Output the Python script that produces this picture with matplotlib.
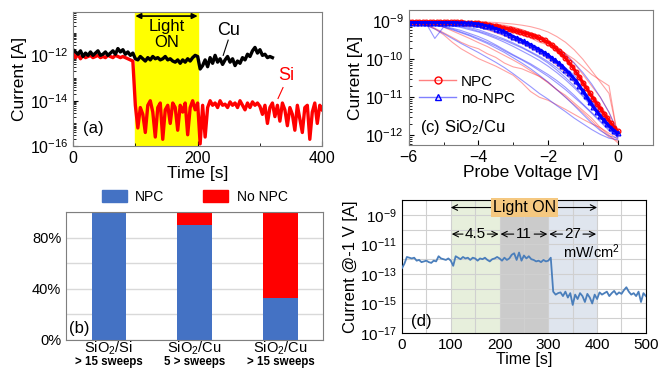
import numpy as np
import matplotlib
matplotlib.use("Agg")
import matplotlib.pyplot as plt
from matplotlib.ticker import LogLocator, NullFormatter, FixedLocator
from matplotlib.lines import Line2D
from matplotlib.patches import Patch

plt.rcParams['font.family'] = ['Liberation Sans', 'DejaVu Sans']
plt.rcParams['mathtext.fontset'] = 'custom'
plt.rcParams['mathtext.rm'] = 'Liberation Sans'
plt.rcParams['mathtext.it'] = 'Liberation Sans:italic'
plt.rcParams['mathtext.bf'] = 'Liberation Sans:bold'

# ---------------- data (log10 of current where noted) ----------------
# (a) current vs time, sampled every 4 s, log10(I)
cu_log = [-11.75, -11.85, -11.95, -11.8, -12.05, -11.9, -12.0, -11.85, -12.0, -11.9,
          -11.8, -12.0, -11.95, -11.85, -12.0, -11.9, -11.8, -11.95, -11.7, -11.85,
          -11.75, -11.95, -11.85, -12.0, -11.9, -12.15, -12.2, -12.05, -12.15, -12.25,
          -12.1, -12.2, -12.05, -12.15, -12.1, -12.2, -12.15, -12.05, -12.2, -12.15,
          -12.25, -12.3, -12.2, -12.35, -12.2, -12.3, -12.15, -12.25, -12.1, -12.0,
          -12.05, -12.6, -12.45, -12.2, -12.5, -12.1, -12.35, -12.0, -12.3, -12.15,
          -12.4, -12.2, -12.05, -12.3, -12.15, -12.45, -12.25, -12.35, -12.1, -12.2,
          -11.95, -12.05, -11.8, -11.65, -11.9, -11.75, -12.0, -11.95, -12.1, -12.05, -12.1]
si_log = [-11.9, -12.1, -11.95, -12.15, -12.0, -12.1, -12.05, -12.0, -12.1, -12.05,
          -12.0, -12.1, -12.05, -12.1, -12.0, -12.05, -12.1, -12.0, -12.05, -12.1,
          -12.05, -12.1, -12.15, -12.2, -12.25, -14.2, -15.2, -14.3, -14.6, -15.4,
          -14.2, -14.0, -14.5, -15.6, -14.3, -14.1, -15.7, -14.4, -14.2, -15.0,
          -14.1, -14.3, -15.3, -14.2, -14.5, -14.1, -15.5, -14.3, -14.0, -14.4,
          -14.1, -15.9, -14.2, -15.6, -14.3, -14.0, -14.2, -14.1, -14.3, -14.0,
          -14.2, -14.15, -14.3, -14.05, -14.2, -14.1, -14.3, -14.0, -14.2, -14.4,
          -14.1, -14.3, -14.05, -14.2, -14.1, -14.25, -14.6, -14.2, -15.0, -14.3,
          -14.1, -14.7, -14.2, -14.9, -14.1, -14.4, -15.1, -14.3, -14.6, -15.3,
          -14.2, -14.8, -15.4, -14.3, -14.2, -15.7, -14.5, -14.1, -15.0, -14.2, -14.4]
t_cu = np.linspace(0, 320, len(cu_log))
t_si = np.linspace(0, 400, len(si_log))

# (c) I-V sweeps, log10(I); averages every 0.1 V, single sweeps every 0.25 V
v_avg = np.linspace(-6, 0, 61)
npc_avg = [-9.02] * 11 + [-9.02, -9.02, -9.02, -9.02, -9.02, -9.03, -9.03, -9.03, -9.03, -9.04,
           -9.06, -9.07, -9.09, -9.11, -9.13, -9.15, -9.17, -9.19, -9.21, -9.24,
           -9.26, -9.28, -9.31, -9.33, -9.36, -9.39, -9.42, -9.46, -9.50, -9.56,
           -9.62, -9.70, -9.78, -9.87, -9.97, -10.08, -10.20, -10.33, -10.47, -10.62,
           -10.76, -10.90, -11.04, -11.17, -11.30, -11.43, -11.56, -11.68, -11.80, -11.90]
nonpc_avg = [-9.03] * 11 + [-9.03, -9.03, -9.03, -9.04, -9.04, -9.04, -9.05, -9.05, -9.06, -9.07,
             -9.09, -9.11, -9.13, -9.16, -9.19, -9.22, -9.26, -9.30, -9.35, -9.40,
             -9.44, -9.48, -9.53, -9.57, -9.62, -9.67, -9.72, -9.77, -9.83, -9.89,
             -9.96, -10.03, -10.10, -10.18, -10.27, -10.36, -10.46, -10.57, -10.70, -10.84,
             -10.98, -11.12, -11.25, -11.38, -11.50, -11.61, -11.71, -11.80, -11.88, -11.95]
v_sweep = np.linspace(-6, 0, 25)
npc_sweeps = [
    [-9.00, -9.00, -9.00, -9.00, -9.00, -9.00, -9.00, -9.00, -9.01, -9.02, -9.03, -9.05, -9.07,
     -9.10, -9.14, -9.20, -9.28, -9.40, -9.55, -9.75, -10.00, -10.30, -10.60, -10.90, -12.0],
    [-9.01, -9.01, -9.01, -9.01, -9.01, -9.02, -9.02, -9.03, -9.04, -9.06, -9.08, -9.12, -9.16,
     -9.22, -9.30, -9.38, -9.50, -9.66, -9.85, -10.10, -10.40, -10.70, -11.00, -11.40, -11.95],
    [-9.02, -9.05, -9.10, -9.20, -9.35, -9.55, -9.72, -9.85, -9.98, -10.08, -10.18, -10.30, -10.42,
     -10.62, -10.85, -11.00, -11.08, -11.20, -11.32, -11.45, -11.58, -11.70, -11.80, -11.95, -12.10],
    [-9.02, -9.04, -9.08, -9.18, -9.30, -9.42, -9.55, -9.65, -9.72, -9.85, -9.95, -10.10, -10.20,
     -10.25, -10.35, -10.45, -10.60, -10.80, -10.95, -11.15, -11.35, -11.55, -11.80, -12.00, -12.20],
    [-9.00, -9.00, -9.00, -9.00, -9.01, -9.01, -9.02, -9.03, -9.04, -9.05, -9.07, -9.10, -9.15,
     -9.22, -9.30, -9.42, -9.55, -9.70, -9.85, -10.00, -10.20, -10.40, -10.55, -10.70, -12.05],
    [-9.01, -9.01, -9.02, -9.02, -9.03, -9.04, -9.06, -9.10, -9.15, -9.22, -9.30, -9.38, -9.48,
     -9.58, -9.70, -9.82, -9.98, -10.15, -10.35, -10.60, -10.85, -11.15, -11.45, -11.75, -12.0],
    [-9.00, -9.01, -9.01, -9.02, -9.02, -9.03, -9.05, -9.07, -9.10, -9.13, -9.17, -9.22, -9.28,
     -9.35, -9.44, -9.55, -9.62, -9.80, -10.00, -10.25, -10.55, -10.90, -11.20, -11.55, -11.90],
    [-9.01, -9.02, -9.04, -9.08, -9.15, -9.25, -9.35, -9.45, -9.56, -9.66, -9.78, -9.90, -10.02,
     -10.15, -10.30, -10.45, -10.62, -10.80, -11.00, -11.20, -11.40, -11.62, -11.85, -12.05, -12.15],
]
nonpc_sweeps = [
    [-9.02, -9.02, -9.03, -9.03, -9.04, -9.05, -9.07, -9.10, -9.14, -9.19, -9.25, -9.33, -9.42,
     -9.52, -9.63, -9.76, -9.90, -10.05, -10.22, -10.42, -10.65, -10.92, -11.25, -11.60, -11.95],
    [-9.02, -9.03, -9.04, -9.05, -9.07, -9.10, -9.14, -9.19, -9.26, -9.33, -9.42, -9.50, -9.60,
     -9.70, -9.82, -9.95, -10.10, -10.28, -10.48, -10.70, -10.95, -11.22, -11.52, -11.82, -12.05],
    [-9.02, -9.03, -9.05, -9.45, -9.15, -9.20, -9.28, -9.36, -9.45, -9.55, -9.65, -9.78, -9.90,
     -10.02, -10.15, -10.30, -10.45, -10.62, -10.80, -11.00, -11.20, -11.42, -11.65, -11.88, -12.05],
    [-9.03, -9.05, -9.10, -9.20, -9.32, -9.45, -9.58, -9.70, -9.82, -9.95, -10.08, -10.22, -10.38,
     -10.55, -10.72, -10.90, -11.05, -11.22, -11.38, -11.55, -11.70, -11.85, -11.98, -12.08, -12.12],
    [-9.01, -9.01, -9.01, -9.02, -9.02, -9.03, -9.04, -9.05, -9.07, -9.10, -9.13, -9.17, -9.22,
     -9.28, -9.36, -9.45, -9.56, -9.70, -9.88, -10.10, -10.35, -10.65, -11.00, -11.40, -11.90],
    [-9.02, -9.02, -9.03, -9.04, -9.06, -9.08, -9.11, -9.16, -9.22, -9.30, -9.38, -9.47, -9.57,
     -9.68, -9.80, -9.92, -10.06, -10.22, -10.40, -10.60, -10.82, -11.08, -11.35, -11.65, -11.98],
    [-9.03, -9.04, -9.06, -9.09, -9.13, -9.18, -9.24, -9.32, -9.40, -9.50, -9.62, -9.75, -9.88,
     -10.00, -10.12, -10.26, -10.40, -10.56, -10.74, -10.95, -11.18, -11.40, -11.62, -11.85, -12.00],
    [-9.02, -9.03, -9.04, -9.06, -9.08, -9.12, -9.16, -9.22, -9.28, -9.36, -9.45, -9.55, -9.66,
     -9.78, -9.90, -10.03, -10.18, -10.35, -10.54, -10.75, -10.98, -11.25, -11.50, -11.78, -12.02],
    [-9.02, -9.02, -9.03, -9.03, -9.04, -9.06, -9.08, -9.11, -9.15, -9.21, -9.28, -9.37, -9.46,
     -9.56, -9.68, -9.80, -9.95, -10.12, -10.32, -10.55, -10.80, -11.10, -11.42, -11.72, -12.00],
    [-9.03, -9.05, -9.07, -9.10, -9.15, -9.22, -9.30, -9.38, -9.48, -9.58, -9.70, -9.82, -9.96,
     -10.10, -10.25, -10.42, -10.60, -10.80, -11.00, -11.22, -11.45, -11.68, -11.88, -12.02, -12.08],
]

# (b) share of sweeps with / without NPC
bar_cats = ['SiO$_2$/Si', 'SiO$_2$/Cu', 'SiO$_2$/Cu']
bar_sub = ['> 15 sweeps', '5 > sweeps', '> 15 sweeps']
npc_pct = [100, 90, 33]
no_npc_pct = [0, 10, 67]

# (d) current @-1 V vs time, every 5 s, log10(I)
d_log = [-12.6, -12.3, -11.85, -11.9, -11.95, -11.9, -12.1, -12.05, -12.2, -12.15,
         -12.1, -12.2, -12.25, -12.1, -12.15, -11.8, -11.95, -12.0, -12.05, -11.95,
         -12.1, -12.45, -11.8, -11.9, -12.0, -11.85, -11.95, -11.9, -12.05, -11.9,
         -11.95, -12.1, -11.95, -12.0, -11.9, -12.05, -12.15, -12.0, -11.95, -11.85,
         -11.95, -12.1, -11.9, -12.05, -11.95, -11.7, -11.6, -12.05, -11.55, -12.1,
         -11.75, -11.95, -11.8, -12.0, -12.05, -12.15, -12.1, -12.2, -12.05, -12.15,
         -12.1, -11.9, -14.2, -14.4, -14.3, -14.25, -14.5, -14.2, -14.6, -14.3,
         -15.1, -14.4, -14.7, -14.3, -14.5, -14.9, -14.35, -14.6, -15.0, -14.4,
         -14.7, -14.25, -14.4, -14.3, -14.2, -14.5, -14.3, -14.15, -14.4, -14.25,
         -14.35, -14.1, -13.9, -14.2, -14.4, -14.3, -14.5, -14.2, -14.9, -14.3, -14.5]
t_d = np.linspace(0, 500, len(d_log))
power_labels = ['4.5', '11', '27']
power_mid = [150, 250, 350]

fig = plt.figure(figsize=(6.7, 3.69), dpi=100)
frame_gray = '#7f7f7f'

# ---------------- (a) ----------------
ax = fig.add_axes([0.109, 0.604, 0.372, 0.363])
ax.axvspan(100, 200, color='#ffff00', zorder=0)
ax.plot(t_si, 10 ** np.array(si_log), color='red', lw=2.4)
ax.plot(t_cu, 10 ** np.array(cu_log), color='black', lw=2.4)
ax.set_yscale('log')
ax.set_xlim(0, 400)
ax.set_ylim(1e-16, 8e-11)
ax.yaxis.set_major_locator(FixedLocator([1e-16, 1e-14, 1e-12]))
ax.yaxis.set_minor_locator(LogLocator(base=10, subs=np.arange(1, 10), numticks=30))
ax.yaxis.set_minor_formatter(NullFormatter())
ax.set_xticks([0, 200, 400])
ax.set_xticks([100, 300], minor=True)
ax.tick_params(direction='in', labelsize=11.5)
ax.tick_params(which='minor', direction='in', length=2)
for s in ax.spines.values():
    s.set_color(frame_gray)
ax.set_xlabel('Time [s]', fontsize=12.5, labelpad=0)
ax.set_ylabel('Current [A]', fontsize=12.5, labelpad=2)
ax.annotate('', xy=(100, 5.4e-11), xytext=(200, 5.4e-11),
            arrowprops=dict(arrowstyle='<|-|>', color='k', lw=1.2, shrinkA=0, shrinkB=0,
                            mutation_scale=8))
ax.text(150, 10 ** -11.07, 'Light\nON', ha='center', va='center', fontsize=12, linespacing=1.05)
ax.text(250, 10 ** -10.9, 'Cu', ha='center', va='center', fontsize=13)
ax.plot([249, 241], [10 ** -11.33, 10 ** -12.0], color='k', lw=0.8)
ax.text(343, 10 ** -12.9, 'Si', ha='center', va='center', fontsize=13, color='red')
ax.plot([337, 329], [10 ** -13.42, 10 ** -13.9], color='red', lw=0.8)
ax.text(0.04, 0.13, '(a)', transform=ax.transAxes, fontsize=12, va='center')

# ---------------- (c) ----------------
ax = fig.add_axes([0.610, 0.607, 0.364, 0.366])
for sw in npc_sweeps:
    ax.plot(v_sweep, 10 ** np.array(sw), color='#ff3030', lw=0.8, alpha=0.45)
for sw in nonpc_sweeps:
    ax.plot(v_sweep, 10 ** np.array(sw), color='#3030ff', lw=0.8, alpha=0.5)
ax.plot(v_avg, 10 ** np.array(npc_avg), color='red', lw=2.2, marker='o', ms=3.4,
        mfc='none', mew=0.9)
ax.plot(v_avg, 10 ** np.array(nonpc_avg), color='blue', lw=2.2, marker='^', ms=3.4,
        mfc='none', mew=0.9)
ax.set_yscale('log')
ax.set_xlim(-6, 1)
ax.set_ylim(5.5e-13, 2e-9)
ax.yaxis.set_major_locator(FixedLocator([1e-12, 1e-11, 1e-10, 1e-9]))
ax.yaxis.set_minor_locator(LogLocator(base=10, subs=np.arange(2, 10), numticks=30))
ax.yaxis.set_minor_formatter(NullFormatter())
ax.set_xticks([-6, -4, -2, 0])
ax.set_xticks([-5, -3, -1, 1], minor=True)
ax.tick_params(direction='in', labelsize=11.5)
ax.tick_params(which='minor', direction='in', length=2)
for s in ax.spines.values():
    s.set_color(frame_gray)
ax.set_xlabel('Probe Voltage [V]', fontsize=12.5, labelpad=0)
ax.set_ylabel('Current [A]', fontsize=12.5, labelpad=2)
handles = [Line2D([], [], color='#ff8080', lw=1, marker='o', mec='red', mfc='none', ms=5),
           Line2D([], [], color='#8080ff', lw=1, marker='^', mec='blue', mfc='none', ms=5)]
ax.legend(handles, ['NPC', 'no-NPC'], loc='upper left', bbox_to_anchor=(0.0, 0.6),
          frameon=False, fontsize=11, handlelength=2.4, handletextpad=0.3,
          borderpad=0.2, labelspacing=0.2)
ax.text(0.045, 0.13, '(c) SiO$_2$/Cu', transform=ax.transAxes, fontsize=12, va='center')

# ---------------- (b) ----------------
ax = fig.add_axes([0.0985, 0.0786, 0.384, 0.347])
x = np.arange(len(bar_cats))
ax.bar(x, npc_pct, width=0.4, color='#4472c4', label='NPC', zorder=2)
ax.bar(x, no_npc_pct, width=0.4, bottom=npc_pct, color='#ff0000', label='No NPC', zorder=2)
ax.set_xlim(-0.5, 2.5)
ax.set_ylim(0, 100)
ax.set_yticks([0, 20, 40, 60, 80, 100])
ax.set_yticklabels(['0%', '', '40%', '', '80%', ''])
ax.yaxis.grid(True, color='#d9d9d9', lw=1, zorder=0)
ax.set_xticks(x)
ax.set_xticklabels(bar_cats, fontsize=10.5)
ax.tick_params(length=0, labelsize=10.5)
ax.tick_params(axis='x', pad=0)
for i, sub in enumerate(bar_sub):
    ax.text(x[i], -0.175, sub, transform=ax.get_xaxis_transform(), ha='center', va='center',
            fontsize=8.3, fontweight='bold')
for s in ax.spines.values():
    s.set_color(frame_gray)
ax.legend(handles=[Patch(color='#4472c4'), Patch(color='#ff0000')], labels=['NPC', 'No NPC'],
          loc='lower center', bbox_to_anchor=(0.5, 1.0), ncol=2, frameon=False,
          fontsize=10, handlelength=1.8, handleheight=0.9, columnspacing=2.8,
          handletextpad=0.6, borderpad=0.1)
ax.text(0.01, 0.09, '(b)', transform=ax.transAxes, fontsize=12, va='center',
        bbox=dict(fc='white', ec='none', pad=0.5))

# ---------------- (d) ----------------
ax = fig.add_axes([0.600, 0.0976, 0.364, 0.360])
ax.axvspan(100, 200, color='#e7efdc', zorder=0, lw=0)
ax.axvspan(200, 300, color='#cbcbcb', zorder=0, lw=0)
ax.axvspan(300, 400, color='#dfe5ee', zorder=0, lw=0)
ax.plot(t_d, 10 ** np.array(d_log), color='#4a7ebb', lw=1.3, zorder=3)
ax.set_yscale('log')
ax.set_xlim(0, 500)
ax.set_ylim(1e-17, 1e-8)
ax.yaxis.set_major_locator(FixedLocator([1e-17, 1e-15, 1e-13, 1e-11, 1e-9]))
ax.yaxis.set_minor_locator(FixedLocator([1e-16, 1e-14, 1e-12, 1e-10, 1e-8]))
ax.yaxis.set_minor_formatter(NullFormatter())
ax.set_xticks([0, 100, 200, 300, 400, 500])
ax.set_xticks([50, 150, 250, 350, 450], minor=True)
ax.grid(True, which='both', color='#d0d0d0', lw=0.8, zorder=1)
ax.set_axisbelow(True)
ax.tick_params(which='both', length=0, labelsize=11)
ax.set_xlabel('Time [s]', fontsize=11.5, labelpad=0)
ax.set_ylabel('Current @-1 V [A]', fontsize=12, labelpad=2)
y_on = 10 ** -8.5
ax.annotate('', xy=(100, y_on), xytext=(250, y_on),
            arrowprops=dict(arrowstyle='->', color='k', lw=0.8, shrinkA=0, shrinkB=0), zorder=4)
ax.annotate('', xy=(400, y_on), xytext=(250, y_on),
            arrowprops=dict(arrowstyle='->', color='k', lw=0.8, shrinkA=0, shrinkB=0), zorder=4)
ax.text(252, y_on, 'Light ON', ha='center', va='center', fontsize=11.5, zorder=5,
        bbox=dict(fc='#f5c880', ec='none', pad=1.5))
# power density of each light step, with arrows out to the step edges
y_pw = 10 ** -10.3
for lab, mid in zip(power_labels, power_mid):
    ax.text(mid, y_pw, lab, ha='center', va='center', fontsize=11, zorder=5)
    gap = 25 if len(lab) > 2 else 21
    for edge in (mid - 48, mid + 48):
        start = mid - gap if edge < mid else mid + gap
        ax.annotate('', xy=(edge, y_pw), xytext=(start, y_pw),
                    arrowprops=dict(arrowstyle='->', color='k', lw=0.8,
                                    shrinkA=0, shrinkB=0), zorder=5)
ax.text(388, 10 ** -11.5, 'mW/cm$^2$', ha='center', va='center', fontsize=10.5, zorder=5)
ax.text(0.035, 0.09, '(d)', transform=ax.transAxes, fontsize=12, va='center')

fig.savefig('out.png', dpi=100)
